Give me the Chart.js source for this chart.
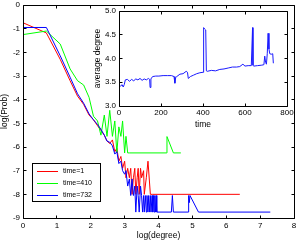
<!DOCTYPE html>
<html>
<head>
<meta charset="utf-8">
<script src="https://cdn.jsdelivr.net/npm/chart.js@4.4.1/dist/chart.umd.min.js"></script>
<style>
  body { margin: 0; background: #fff; }
  #wrap { position: relative; width: 298px; height: 241px; background: #fff; }
  #main { position: absolute; left: 0; top: 0; }
  #inset { position: absolute; left: 93px; top: 0; }
</style>
</head>
<body>
<div id="wrap">
  <canvas id="main" width="298" height="241"></canvas>
  <canvas id="inset" width="205" height="130"></canvas>
</div>
<script>
// degree distribution at three times, log(degree) vs log(Prob)
var t1LogDeg = [0, 0.69, 1.10, 1.39, 1.61, 1.79, 1.95, 2.08, 2.20, 2.30, 2.40, 2.48, 2.56, 2.64, 2.71, 2.77, 2.83, 2.89, 2.94, 3.00,
  3.04, 3.09, 3.14, 3.18, 3.22, 3.26, 3.30, 3.33, 3.37, 3.40, 3.43, 3.47, 3.50, 3.56, 3.58, 3.64, 3.69, 3.76, 3.83, 6.40];
var t1LogProb = [-0.75, -1.18, -2.30, -3.20, -3.85, -4.20, -4.65, -4.85, -5.10, -5.30, -5.50, -5.75, -5.85, -5.70, -6.20, -6.05, -6.60, -6.40, -6.90, -6.60,
  -7.30, -6.90, -7.30, -6.90, -8.00, -7.30, -6.90, -8.00, -7.30, -6.90, -8.00, -6.90, -7.30, -7.00, -8.00, -7.30, -6.60, -8.00, -8.00, -8.00];

var t410LogDeg = [0, 0.69, 1.10, 1.39, 1.61, 1.79, 1.95, 2.08, 2.20, 2.30, 2.40, 2.48, 2.56, 2.64, 2.71, 2.77, 2.83, 2.89, 2.94, 3.00,
  3.04, 3.09, 3.14, 4.23, 4.25, 4.44, 4.66];
var t410LogProb = [-1.25, -1.10, -1.65, -2.70, -3.20, -3.38, -3.90, -4.70, -4.90, -5.50, -4.65, -5.55, -4.45, -5.55, -4.90, -6.25, -5.15, -5.55, -4.90, -6.25,
  -5.55, -6.25, -6.25, -6.25, -5.56, -6.25, -6.25];

var t732LogDeg = [0, 0.69, 1.10, 1.39, 1.61, 1.79, 1.95, 2.08, 2.20, 2.30, 2.40, 2.48, 2.56, 2.64, 2.71, 2.77, 2.83, 2.89, 2.94, 3.00,
  3.04, 3.09, 3.14, 3.18, 3.22, 3.26, 3.30, 3.33, 3.37, 3.40, 3.43, 3.47, 3.50, 3.53, 3.56, 3.58, 3.61, 3.64, 3.66, 3.69,
  3.71, 3.74, 3.76, 3.78, 3.81, 3.83, 3.85, 3.87, 3.89, 3.91, 3.93, 3.95, 4.38, 4.41, 4.44, 4.88, 4.89, 4.91, 4.93, 5.18, 7.30];
var t732LogProb = [-0.95, -0.95, -2.15, -3.05, -3.75, -4.15, -4.60, -4.85, -5.05, -5.25, -5.50, -5.75, -5.80, -5.95, -6.30, -6.20, -6.70, -6.60, -7.00, -7.15,
  -7.00, -7.65, -7.35, -8.05, -7.35, -8.05, -7.65, -8.75, -7.65, -8.05, -8.75, -7.65, -8.05, -8.75, -8.05, -8.75, -8.05, -8.75, -8.05, -8.75,
  -8.05, -8.75, -8.05, -8.75, -8.05, -8.75, -8.05, -8.75, -8.05, -8.75, -8.05, -8.75, -8.75, -8.05, -8.75, -8.75, -8.05, -8.35, -8.05, -8.75, -8.75];

// inset: average degree over time
var insetTime = [0, 8, 15, 20, 25, 30, 40, 50, 60, 70, 80, 90, 100, 110, 120, 130, 140, 146, 148, 152,
  160, 175, 190, 210, 230, 250, 262, 266, 270, 275, 290, 305, 320, 326, 330, 340, 355, 370, 385, 400,
  403, 408, 413, 416, 420, 440, 460, 480, 500, 520, 540, 560, 575, 590, 600, 615, 630, 636, 638, 641,
  660, 680, 690, 694, 698, 702, 706, 710, 714, 718, 725, 732, 735];
var insetDegree = [3.44, 3.42, 3.45, 3.40, 3.45, 3.55, 3.56, 3.52, 3.56, 3.53, 3.57, 3.55, 3.58, 3.54, 3.57, 3.55, 3.58, 3.56, 3.39, 3.57,
  3.62, 3.63, 3.63, 3.64, 3.64, 3.64, 3.62, 3.48, 3.60, 3.62, 3.67, 3.68, 3.73, 3.71, 3.58, 3.62, 3.65, 3.68, 3.70, 3.71,
  4.65, 4.62, 4.60, 3.74, 3.73, 3.75, 3.74, 3.77, 3.78, 3.80, 3.82, 3.82, 3.83, 3.88, 3.84, 3.85, 3.85, 4.65, 3.86, 3.84,
  3.85, 3.86, 3.87, 4.05, 3.92, 3.88, 4.10, 4.53, 4.20, 4.10, 4.09, 4.10, 3.90];

var seriesLabels = ["time=1", "time=410", "time=732"];
var mainXTicks = [0, 1, 2, 3, 4, 5, 6, 7, 8];
var mainYTicks = [-9, -8, -7, -6, -5, -4, -3, -2, -1, 0];
var insetXTicks = [0, 200, 400, 600, 800];
var insetYTicks = [3, 3.5, 4, 4.5, 5];

var FONT = "'Liberation Sans', Arial, sans-serif";

function pts(xs, ys) {
  return xs.map(function (x, i) { return { x: x, y: ys[i] }; });
}

function fixedTicks(list) {
  return function (scale) {
    scale.ticks = list.map(function (v) { return { value: v }; });
  };
}

// matlab style box with inward ticks on all four sides
var boxTicks = {
  id: "boxTicks",
  beforeDatasetsDraw: function (chart) {
    var ctx = chart.ctx, a = chart.chartArea;
    ctx.save();
    ctx.fillStyle = "#fff";
    ctx.fillRect(a.left, a.top, a.right - a.left, a.bottom - a.top);
    ctx.restore();
  },
  afterDraw: function (chart) {
    var ctx = chart.ctx, a = chart.chartArea, len = 3;
    var xs = chart.scales.x, ys = chart.scales.y;
    var L = Math.floor(a.left) + 0.5, R = Math.floor(a.right) + 0.5;
    var T = Math.floor(a.top) + 0.5, B = Math.floor(a.bottom) + 0.5;
    ctx.save();
    ctx.strokeStyle = "#000";
    ctx.lineWidth = 1;
    ctx.beginPath();
    xs.ticks.forEach(function (t) {
      var p = Math.floor(xs.getPixelForValue(t.value)) + 0.5;
      ctx.moveTo(p, B); ctx.lineTo(p, B - len);
      ctx.moveTo(p, T); ctx.lineTo(p, T + len);
    });
    ys.ticks.forEach(function (t) {
      var p = Math.floor(ys.getPixelForValue(t.value)) + 0.5;
      ctx.moveTo(L, p); ctx.lineTo(L + len, p);
      ctx.moveTo(R, p); ctx.lineTo(R - len, p);
    });
    ctx.moveTo(L, T); ctx.lineTo(R, T); ctx.lineTo(R, B); ctx.lineTo(L, B); ctx.closePath();
    ctx.stroke();
    ctx.restore();
  }
};

var boxLegend = {
  id: "boxLegend",
  afterDraw: function (chart) {
    var ctx = chart.ctx;
    var bx = 32, by = 163, bw = 68, bh = 38;
    ctx.save();
    ctx.fillStyle = "#fff";
    ctx.fillRect(bx, by, bw, bh);
    ctx.strokeStyle = "#000";
    ctx.lineWidth = 1;
    ctx.strokeRect(bx + 0.5, by + 0.5, bw, bh);
    ctx.font = "7px " + FONT;
    ctx.textBaseline = "middle";
    chart.data.datasets.forEach(function (ds, i) {
      var yy = by + 8.5 + i * 12;
      ctx.strokeStyle = ds.borderColor;
      ctx.beginPath();
      ctx.moveTo(bx + 5, yy);
      ctx.lineTo(bx + 26, yy);
      ctx.stroke();
      ctx.fillStyle = "#000";
      ctx.fillText(ds.label, bx + 31, yy);
    });
    ctx.restore();
  }
};

function lineDs(label, color, data, order) {
  return {
    label: label, data: data, borderColor: color, backgroundColor: color,
    borderWidth: 1, pointRadius: 0, tension: 0, order: order
  };
}

new Chart(document.getElementById("main").getContext("2d"), {
  type: "line",
  data: {
    datasets: [
      lineDs(seriesLabels[0], "#ff0000", pts(t1LogDeg, t1LogProb), 3),
      lineDs(seriesLabels[1], "#00ff00", pts(t410LogDeg, t410LogProb), 2),
      lineDs(seriesLabels[2], "#0000ff", pts(t732LogDeg, t732LogProb), 1)
    ]
  },
  options: {
    responsive: false,
    animation: false,
    devicePixelRatio: 1,
    layout: { padding: { top: 5, right: 4, left: 0, bottom: 0 } },
    plugins: { legend: { display: false }, tooltip: { enabled: false } },
    scales: {
      x: {
        type: "linear", min: 0, max: 8,
        afterBuildTicks: fixedTicks(mainXTicks),
        grid: { display: false, drawTicks: false }, border: { display: false },
        ticks: { color: "#000", font: { family: FONT, size: 8 }, padding: 3, maxRotation: 0 },
        title: { display: true, text: "log(degree)", color: "#000", font: { family: FONT, size: 8.5 }, padding: 0 },
        afterFit: function (s) { s.height = 23; s.paddingLeft = 0; s.paddingRight = 0; }
      },
      y: {
        type: "linear", min: -9, max: 0,
        afterBuildTicks: fixedTicks(mainYTicks),
        grid: { display: false, drawTicks: false }, border: { display: false },
        ticks: { color: "#000", font: { family: FONT, size: 8 }, padding: 3 },
        title: { display: true, text: "log(Prob)", color: "#000", font: { family: FONT, size: 8.5 }, padding: 0 },
        afterFit: function (s) { s.width = 23; s.paddingTop = 0; s.paddingBottom = 0; }
      }
    }
  },
  plugins: [boxTicks, boxLegend]
});

new Chart(document.getElementById("inset").getContext("2d"), {
  type: "line",
  data: {
    datasets: [lineDs("average degree", "#1a1aff", pts(insetTime, insetDegree), 0)]
  },
  options: {
    responsive: false,
    animation: false,
    devicePixelRatio: 1,
    layout: { padding: { top: 11, right: 11, left: 0, bottom: 0 } },
    plugins: { legend: { display: false }, tooltip: { enabled: false } },
    scales: {
      x: {
        type: "linear", min: 0, max: 800,
        afterBuildTicks: fixedTicks(insetXTicks),
        grid: { display: false, drawTicks: false }, border: { display: false },
        ticks: { color: "#000", font: { family: FONT, size: 8 }, padding: 2, maxRotation: 0 },
        title: { display: true, text: "time", color: "#000", font: { family: FONT, size: 8.5 }, padding: 0 },
        afterFit: function (s) { s.height = 24; s.paddingLeft = 0; s.paddingRight = 0; }
      },
      y: {
        type: "linear", min: 3, max: 5,
        afterBuildTicks: fixedTicks(insetYTicks),
        grid: { display: false, drawTicks: false }, border: { display: false },
        ticks: { color: "#000", font: { family: FONT, size: 8 }, padding: 3 },
        title: { display: true, text: "average degree", color: "#000", font: { family: FONT, size: 8.5 }, padding: 0 },
        afterFit: function (s) { s.width = 26; s.paddingTop = 0; s.paddingBottom = 0; }
      }
    }
  },
  plugins: [boxTicks]
});
</script>
</body>
</html>
